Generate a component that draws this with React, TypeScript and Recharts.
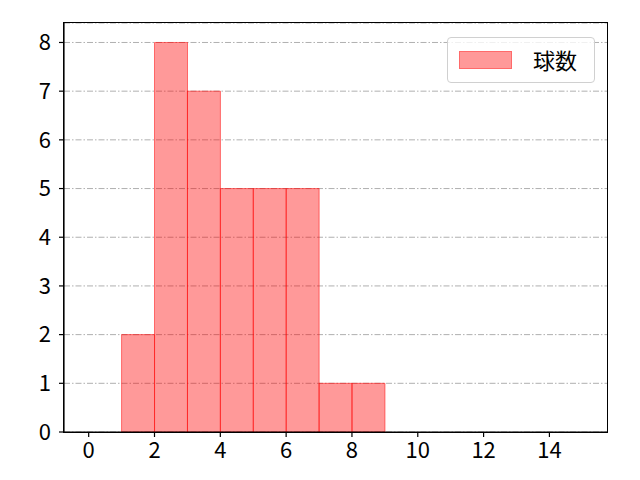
import React from "react";
import { BarChart, Bar, XAxis, YAxis, CartesianGrid } from "recharts";

// histogram bins (left edge) and counts
const binStarts = [1, 2, 3, 4, 5, 6, 7, 8];
const counts = [2, 8, 7, 5, 5, 5, 1, 1];
const xTicks = [0, 2, 4, 6, 8, 10, 12, 14];
const yTicks = [0, 1, 2, 3, 4, 5, 6, 7, 8];
const seriesName = "球数";

const FONT = "'Noto Sans CJK JP', 'Noto Sans', sans-serif";

const data = binStarts.map((b, i) => ({ mid: b + 0.5, count: counts[i] }));

// plot box in page pixels
const PLOT = { left: 64, top: 23, right: 607, bottom: 432 };

function LegendBox() {
  return (
    <div
      style={{
        position: "absolute",
        left: 447,
        top: 37,
        width: 148,
        height: 46,
        border: "1px solid #d0d0d0",
        borderRadius: 4,
        background: "rgba(255,255,255,0.8)",
        boxSizing: "border-box",
        fontFamily: FONT,
        fontSize: 22,
        color: "#000",
      }}
    >
      <div
        style={{
          position: "absolute",
          left: 11,
          top: 13,
          width: 53,
          height: 18,
          background: "rgba(255,0,0,0.4)",
          border: "1px solid rgba(255,0,0,0.3)",
          boxSizing: "border-box",
        }}
      />
      <span style={{ position: "absolute", left: 85, top: 6, lineHeight: "30px" }}>
        {seriesName}
      </span>
    </div>
  );
}

export default function App() {
  return (
    <div style={{ position: "absolute", left: 0, top: 0, width: 640, height: 480, background: "#fff" }}>
      <BarChart
        width={640}
        height={480}
        data={data}
        barCategoryGap={0}
        barGap={0}
        margin={{ top: PLOT.top, right: 640 - PLOT.right, bottom: 0, left: 0 }}
      >
        <CartesianGrid vertical={false} stroke="#b0b0b0" strokeDasharray="6 2 1.5 2" />
        <XAxis
          dataKey="mid"
          type="number"
          domain={[-0.75, 15.75]}
          ticks={xTicks}
          allowDataOverflow
          height={480 - PLOT.bottom}
          tickSize={5}
          tickMargin={5}
          tick={{ fontSize: 22, fill: "#000", fontFamily: FONT }}
          axisLine={{ stroke: "#000", strokeWidth: 1.2 }}
          tickLine={{ stroke: "#000", strokeWidth: 1.2 }}
        />
        <YAxis
          type="number"
          domain={[0, 8.4]}
          ticks={yTicks}
          allowDataOverflow
          width={PLOT.left}
          tickSize={5}
          tickMargin={8}
          tick={{ fontSize: 22, fill: "#000", fontFamily: FONT }}
          axisLine={{ stroke: "#000", strokeWidth: 1.2 }}
          tickLine={{ stroke: "#000", strokeWidth: 1.2 }}
        />
        <Bar
          dataKey="count"
          name={seriesName}
          fill="#ff0000"
          fillOpacity={0.4}
          stroke="#ff0000"
          strokeOpacity={0.5}
          strokeWidth={1}
          isAnimationActive={false}
        />
      </BarChart>
      {/* axes frame (top and right spines) */}
      <div
        style={{
          position: "absolute",
          left: PLOT.left - 0.6,
          top: PLOT.top - 0.6,
          width: PLOT.right - PLOT.left + 1.2,
          height: PLOT.bottom - PLOT.top + 1.2,
          border: "1.2px solid #000",
          boxSizing: "border-box",
          pointerEvents: "none",
        }}
      />
      <LegendBox />
    </div>
  );
}
